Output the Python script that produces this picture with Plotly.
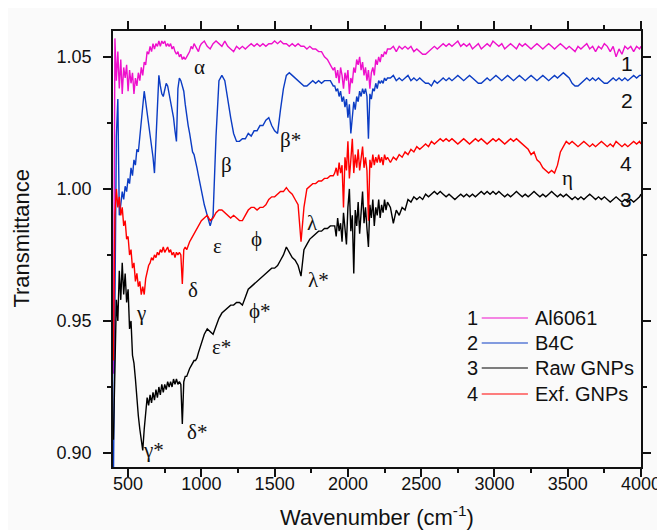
import plotly.graph_objects as go

# ---------------- data ----------------
wavenumber = [
    400, 410, 420, 430, 440, 450, 460, 470, 480, 490,
    500, 510, 520, 530, 540, 550, 560, 570, 580, 590,
    600, 610, 620, 630, 640, 650, 660, 670, 680, 690,
    700, 710, 720, 730, 740, 750, 760, 770, 780, 790,
    800, 810, 820, 830, 840, 850, 860, 870, 880, 890,
    900, 910, 920, 930, 940, 950, 960, 970, 980, 990,
    1000,
    1020, 1040, 1060, 1080, 1100, 1120, 1140, 1160, 1180, 1200,
    1220, 1240, 1260, 1280, 1300, 1320, 1340, 1360, 1380, 1400,
    1420, 1440, 1460, 1480, 1500, 1520, 1540, 1560, 1580, 1600,
    1620, 1640, 1660, 1680, 1700, 1720, 1740, 1760, 1780, 1800,
    1820, 1840, 1860, 1880, 1900,
    1910, 1920, 1930, 1940, 1950, 1960, 1970, 1980, 1990, 2000,
    2010, 2020, 2030, 2040, 2050, 2060, 2070, 2080, 2090, 2100,
    2110, 2120, 2130, 2140, 2150, 2160, 2170, 2180, 2190, 2200,
    2210, 2220, 2230, 2240, 2250, 2260, 2270,
    2290, 2310, 2330, 2350, 2370, 2390, 2410, 2430, 2450, 2470,
    2490, 2510, 2530, 2550, 2570, 2590, 2610, 2630, 2650, 2670,
    2690, 2710, 2730, 2750, 2770, 2790, 2810, 2830, 2850, 2870,
    2890, 2910, 2930, 2950, 2970, 2990, 3010, 3030, 3050, 3070,
    3090, 3110, 3130, 3150, 3170, 3190, 3210, 3230, 3250, 3270,
    3290, 3310, 3330, 3350, 3370, 3390, 3410, 3430, 3450, 3470,
    3490, 3510, 3530, 3550, 3570, 3590, 3610, 3630, 3650, 3670,
    3690, 3710, 3730, 3750, 3770, 3790, 3810, 3830, 3850, 3870,
    3890, 3910, 3930, 3950, 3970, 3990,
    4000,
]

al6061 = [
    0.930, 1.057, 1.041, 1.052, 1.038, 1.049, 1.036, 1.046, 1.042, 1.047,
    1.037, 1.045, 1.040, 1.044, 1.036, 1.042, 1.039, 1.044, 1.041, 1.046,
    1.043, 1.048, 1.047, 1.052, 1.051, 1.054, 1.052, 1.055, 1.053, 1.055,
    1.054, 1.056, 1.054, 1.056, 1.055, 1.056, 1.054, 1.055, 1.054, 1.055,
    1.053, 1.054, 1.052, 1.051, 1.052, 1.050, 1.051, 1.049, 1.050, 1.049,
    1.050, 1.051, 1.052, 1.054, 1.053, 1.055, 1.054, 1.053, 1.052, 1.054,
    1.055,
    1.056, 1.054, 1.053, 1.055, 1.056, 1.055, 1.054, 1.056, 1.054, 1.053,
    1.052, 1.054, 1.053, 1.054, 1.053, 1.054, 1.055, 1.054, 1.055, 1.054,
    1.055, 1.054, 1.055, 1.055, 1.056, 1.055, 1.056, 1.055, 1.055, 1.054,
    1.055, 1.054, 1.055, 1.054, 1.054, 1.053, 1.054, 1.053, 1.053, 1.052,
    1.052, 1.050, 1.049, 1.047, 1.045,
    1.046, 1.042, 1.045, 1.040, 1.046, 1.043, 1.038, 1.044, 1.041, 1.045,
    1.036, 1.042, 1.040, 1.046, 1.044, 1.049, 1.047, 1.050, 1.045, 1.048,
    1.043, 1.046, 1.041, 1.045, 1.038, 1.044, 1.046, 1.043, 1.049, 1.047,
    1.050, 1.048, 1.051, 1.050, 1.052, 1.051, 1.053,
    1.053, 1.054, 1.052, 1.054, 1.053, 1.054, 1.053, 1.054, 1.052, 1.053,
    1.052, 1.051, 1.051, 1.052, 1.053, 1.054, 1.053, 1.054, 1.055, 1.054,
    1.055, 1.054, 1.055, 1.056, 1.054, 1.055, 1.054, 1.055, 1.053, 1.054,
    1.055, 1.053, 1.054, 1.055, 1.054, 1.056, 1.055, 1.054, 1.055, 1.053,
    1.054, 1.055, 1.054, 1.053, 1.055, 1.054, 1.055, 1.054, 1.053, 1.054,
    1.055, 1.054, 1.053, 1.054, 1.055, 1.054, 1.053, 1.054, 1.055, 1.054,
    1.053, 1.054, 1.053, 1.052, 1.054, 1.053, 1.054, 1.055, 1.053, 1.054,
    1.052, 1.054, 1.053, 1.055, 1.054, 1.052, 1.054, 1.050, 1.053, 1.051,
    1.054, 1.053, 1.054, 1.052, 1.054, 1.053,
    1.054,
]

b4c = [
    0.890, 0.950, 1.020, 1.034, 0.990, 0.994, 0.999, 0.996, 1.001, 0.999,
    1.004, 1.002, 1.008, 1.005, 1.011, 1.009, 1.015, 1.014, 1.020, 1.025,
    1.032, 1.037, 1.033, 1.029, 1.026, 1.021, 1.017, 1.012, 1.006, 1.020,
    1.034, 1.043, 1.039, 1.036, 1.035, 1.037, 1.040, 1.039, 1.036, 1.033,
    1.030, 1.027, 1.022, 1.018, 1.038, 1.042, 1.041, 1.039, 1.037, 1.032,
    1.027, 1.024, 1.021, 1.018, 1.014, 1.013, 1.011, 1.008, 1.005, 1.002,
    0.999,
    0.994, 0.990, 0.986, 0.990, 1.020, 1.041, 1.043, 1.041, 1.033, 1.027,
    1.021, 1.018, 1.018, 1.019, 1.019, 1.021, 1.020, 1.022, 1.022, 1.024,
    1.024, 1.026, 1.027, 1.024, 1.022, 1.021, 1.030, 1.038, 1.043, 1.044,
    1.043, 1.042, 1.041, 1.040, 1.039, 1.039, 1.040, 1.041, 1.040, 1.041,
    1.040, 1.041, 1.041, 1.041, 1.039,
    1.039, 1.037, 1.038, 1.035, 1.037, 1.033, 1.035, 1.031, 1.034, 1.027,
    1.032, 1.021, 1.029, 1.033, 1.030, 1.035, 1.033, 1.037, 1.035, 1.038,
    1.036, 1.038, 1.035, 1.019, 1.036, 1.034, 1.038, 1.037, 1.040, 1.038,
    1.041, 1.040, 1.041, 1.040, 1.042, 1.041, 1.042,
    1.042, 1.043, 1.041, 1.042, 1.041, 1.042, 1.043, 1.041, 1.042, 1.041,
    1.042, 1.041, 1.040, 1.040, 1.039, 1.041, 1.040, 1.041, 1.042, 1.041,
    1.042, 1.041, 1.042, 1.043, 1.042, 1.041, 1.042, 1.043, 1.042, 1.041,
    1.040, 1.040, 1.041, 1.042, 1.041, 1.042, 1.043, 1.042, 1.041, 1.042,
    1.043, 1.042, 1.041, 1.042, 1.043, 1.042, 1.041, 1.042, 1.043, 1.042,
    1.041, 1.042, 1.043, 1.042, 1.041, 1.042, 1.043, 1.042, 1.043, 1.044,
    1.043, 1.042, 1.040, 1.039, 1.039, 1.040, 1.041, 1.042, 1.041, 1.042,
    1.041, 1.042, 1.041, 1.040, 1.040, 1.041, 1.042, 1.041, 1.042, 1.041,
    1.042, 1.041, 1.042, 1.043, 1.042, 1.043,
    1.043,
]

raw_gnps = [
    0.905, 0.938, 0.958, 0.950, 0.969, 0.958, 0.972, 0.960, 0.968, 0.957,
    0.962, 0.947, 0.950, 0.937, 0.934, 0.928, 0.919, 0.914, 0.909, 0.904,
    0.901, 0.909, 0.914, 0.921, 0.918, 0.922, 0.919, 0.923, 0.920, 0.924,
    0.921, 0.925, 0.922, 0.926, 0.923, 0.926, 0.924, 0.927, 0.925, 0.927,
    0.925, 0.928, 0.926, 0.928, 0.926, 0.927, 0.926, 0.911, 0.927, 0.929,
    0.929, 0.931, 0.932, 0.933, 0.934, 0.935, 0.935, 0.936, 0.938, 0.940,
    0.942,
    0.945, 0.947, 0.946, 0.945, 0.948, 0.951, 0.953, 0.954, 0.955, 0.956,
    0.956, 0.957, 0.957, 0.956, 0.959, 0.962, 0.963, 0.964, 0.965, 0.966,
    0.967, 0.968, 0.969, 0.970, 0.970, 0.971, 0.973, 0.975, 0.978, 0.976,
    0.974, 0.973, 0.971, 0.967, 0.977, 0.979, 0.981, 0.982, 0.983, 0.984,
    0.984, 0.985, 0.985, 0.986, 0.986,
    0.986, 0.982, 0.989, 0.984, 0.987, 0.980, 0.991, 0.985, 0.979, 0.993,
    1.000, 0.984, 0.990, 0.968, 0.992, 0.986, 0.995, 0.983, 0.991, 0.999,
    0.987, 0.993, 0.985, 0.978, 0.994, 0.989, 0.996, 0.986, 0.993, 0.990,
    0.996, 0.989, 0.994, 0.991, 0.996, 0.992, 0.995,
    0.993, 0.987, 0.992, 0.990, 0.993, 0.992, 0.996, 0.995, 0.997, 0.996,
    0.997, 0.996, 0.998, 0.997, 0.998, 0.999, 0.998, 0.999, 0.998, 0.997,
    0.998, 0.997, 0.996, 0.997, 0.998, 0.997, 0.998, 0.997, 0.998, 0.997,
    0.998, 0.999, 0.998, 0.999, 0.998, 0.999, 0.998, 0.999, 0.998, 0.997,
    0.998, 0.997, 0.998, 0.999, 0.998, 0.997, 0.998, 0.997, 0.998, 0.999,
    0.998, 0.997, 0.998, 0.997, 0.998, 0.999, 0.998, 0.997, 0.998, 0.997,
    0.998, 0.997, 0.996, 0.997, 0.996, 0.997, 0.996, 0.997, 0.998, 0.997,
    0.996, 0.997, 0.996, 0.997, 0.996, 0.995, 0.996, 0.997, 0.996, 0.995,
    0.996, 0.995, 0.996, 0.995, 0.996, 0.997,
    0.998,
]

exf_gnps = [
    0.935, 0.990, 1.000, 0.993, 0.997, 0.990, 0.993, 0.986, 0.988, 0.981,
    0.982, 0.975, 0.977, 0.970, 0.972, 0.965, 0.968, 0.963, 0.965, 0.960,
    0.963, 0.960, 0.966, 0.969, 0.971, 0.972, 0.974, 0.973, 0.975, 0.974,
    0.976, 0.975, 0.977, 0.976, 0.978, 0.976, 0.977, 0.978, 0.976, 0.977,
    0.975, 0.976, 0.974, 0.976, 0.975, 0.976, 0.975, 0.964, 0.977, 0.978,
    0.977, 0.979, 0.980, 0.981, 0.982, 0.983, 0.984, 0.985, 0.986, 0.987,
    0.988,
    0.989, 0.990, 0.988, 0.989, 0.991, 0.992, 0.992, 0.991, 0.990, 0.989,
    0.990, 0.989, 0.988, 0.988, 0.990, 0.992, 0.993, 0.993, 0.992, 0.993,
    0.993, 0.994, 0.996, 0.997, 0.997, 0.998, 0.999, 0.999, 1.0005, 0.999,
    0.998, 0.996, 0.994, 0.980, 0.993, 1.000, 1.001, 1.002, 1.002, 1.003,
    1.003, 1.004, 1.004, 1.005, 1.005,
    1.006, 1.008, 1.005, 1.010, 1.006, 1.009, 0.993, 1.012, 1.007, 1.018,
    1.004, 1.011, 1.019, 1.006, 1.013, 1.008, 1.015, 1.007, 1.011, 1.016,
    1.008, 1.012, 1.007, 0.988, 1.011, 1.008, 1.013, 1.009, 1.012, 1.010,
    1.013, 1.010, 1.012, 1.009, 1.013, 1.011, 1.012,
    1.010, 1.012, 1.011, 1.013, 1.012, 1.014, 1.013, 1.015, 1.014, 1.016,
    1.015, 1.016, 1.017, 1.016, 1.018, 1.017, 1.018, 1.019, 1.018, 1.019,
    1.018, 1.019, 1.018, 1.017, 1.018, 1.019, 1.018, 1.017, 1.018, 1.019,
    1.018, 1.019, 1.018, 1.017, 1.018, 1.019, 1.018, 1.019, 1.018, 1.017,
    1.018, 1.019, 1.018, 1.019, 1.018, 1.017, 1.016, 1.015, 1.013, 1.014,
    1.011, 1.010, 1.008, 1.007, 1.006, 1.007, 1.006, 1.009, 1.014, 1.016,
    1.018, 1.017, 1.018, 1.017, 1.016, 1.017, 1.018, 1.017, 1.016, 1.017,
    1.016, 1.017, 1.018, 1.017, 1.016, 1.017, 1.016, 1.018, 1.017, 1.016,
    1.017, 1.016, 1.017, 1.018, 1.017, 1.018,
    1.017,
]

series_names = ["Al6061", "B4C", "Raw GNPs", "Exf. GNPs"]
series_numbers = ["1", "2", "3", "4"]
series_colors = ["#ee10cc", "#0b3cc4", "#000000", "#ff0000"]

# peak labels (text, wavenumber, transmittance)
peak_text = ["α", "β", "β*", "ε", "ϕ", "λ", "λ*", "δ", "γ", "ϕ*", "ε*", "δ*", "γ*", "η"]
peak_x = [985, 1173, 1609, 1113, 1374, 1757, 1797, 945, 589, 1401, 1139, 972, 676, 3495]
peak_y = [1.0463, 1.0092, 1.0187, 0.9785, 0.9812, 0.9872, 0.9656, 0.9619, 0.9531,
          0.9539, 0.9403, 0.9081, 0.9013, 1.0043]

# curve number labels at the right
curve_label_text = ["1", "2", "4", "3"]
curve_label_x = [3904, 3904, 3897, 3897]
curve_label_y = [1.0475, 1.0334, 1.0096, 0.9960]

x_ticks = [500, 1000, 1500, 2000, 2500, 3000, 3500, 4000]
y_ticks = [0.90, 0.95, 1.00, 1.05]

# ---------------- figure ----------------
fig = go.Figure()
for name, yvals, color in zip(series_names, [al6061, b4c, raw_gnps, exf_gnps], series_colors):
    fig.add_trace(go.Scatter(
        x=wavenumber, y=yvals, mode="lines", name=name,
        line=dict(color=color, width=1.4), showlegend=False,
    ))

W, H = 665, 530
L, R, T, B = 105, 23, 23, 71
plot_w = W - L - R
plot_h = H - T - B


def px_to_paper(px, py):
    return (px - L) / plot_w, (H - B - py) / plot_h


sans = "Liberation Sans, Arial, sans-serif"
serif = "Liberation Serif, Times New Roman, serif"

annotations = []
shapes = []
for t, x, y in zip(peak_text, peak_x, peak_y):
    annotations.append(dict(x=x, y=y, xref="x", yref="y", text=t, showarrow=False,
                            font=dict(family=serif, size=21, color="#111"),
                            xanchor="center", yanchor="middle"))
for t, x, y in zip(curve_label_text, curve_label_x, curve_label_y):
    annotations.append(dict(x=x, y=y, xref="x", yref="y", text=t, showarrow=False,
                            font=dict(family=sans, size=21, color="#111"),
                            xanchor="center", yanchor="middle"))

# legend (number, line sample, name)
legend_rows_py = [310, 335, 360, 386]
for num, name, color, py in zip(series_numbers, series_names, series_colors, legend_rows_py):
    xp, yp = px_to_paper(471, py)
    annotations.append(dict(x=xp, y=yp, xref="paper", yref="paper", text=num, showarrow=False,
                            font=dict(family=sans, size=20, color="#111"),
                            xanchor="center", yanchor="middle"))
    x0, _ = px_to_paper(480, py)
    x1, _ = px_to_paper(527, py)
    shapes.append(dict(type="line", xref="paper", yref="paper", x0=x0, x1=x1, y0=yp, y1=yp,
                       line=dict(color=color, width=1.2)))
    xt, _ = px_to_paper(532, py)
    annotations.append(dict(x=xt, y=yp, xref="paper", yref="paper", text=name, showarrow=False,
                            font=dict(family=sans, size=20, color="#111"),
                            xanchor="left", yanchor="middle"))

# axis titles
xp, yp = px_to_paper(11, 230)
annotations.append(dict(x=xp, y=yp, xref="paper", yref="paper", text="Transmittance",
                        textangle=-90, showarrow=False,
                        font=dict(family=sans, size=22, color="#111"),
                        xanchor="center", yanchor="middle"))
xp, yp = px_to_paper(373, 508)
annotations.append(dict(x=xp, y=yp, xref="paper", yref="paper",
                        text="Wavenumber (cm<sup>-1</sup>)", showarrow=False,
                        font=dict(family=sans, size=22, color="#111"),
                        xanchor="center", yanchor="middle"))

axis_common = dict(
    showline=True, linecolor="#111", linewidth=1.5, mirror="allticks",
    ticks="outside", ticklen=8, tickwidth=1.5, tickcolor="#111",
    showgrid=False, zeroline=False,
    tickfont=dict(family=sans, size=18, color="#111"),
)

fig.update_layout(
    width=W, height=H,
    margin=dict(l=L, r=R, t=T, b=B),
    paper_bgcolor="#fafafa", plot_bgcolor="#fafafa",
    xaxis=dict(range=[397, 4000], tickmode="array", tickvals=x_ticks,
               ticktext=[str(v) for v in x_ticks], ticklabelstandoff=-8,
               minor=dict(dtick=250, tick0=250, ticks="outside", ticklen=4,
                          tickwidth=1.5, tickcolor="#111", showgrid=False),
               **axis_common),
    yaxis=dict(range=[0.8947, 1.0598], tickmode="array", tickvals=y_ticks,
               ticktext=["%.2f" % v for v in y_ticks], ticklabelstandoff=8,
               minor=dict(dtick=0.025, tick0=0.9, ticks="outside", ticklen=4,
                          tickwidth=1.5, tickcolor="#111", showgrid=False),
               **axis_common),
    annotations=annotations,
    shapes=shapes,
    showlegend=False,
)

fig.write_html("out.html")
